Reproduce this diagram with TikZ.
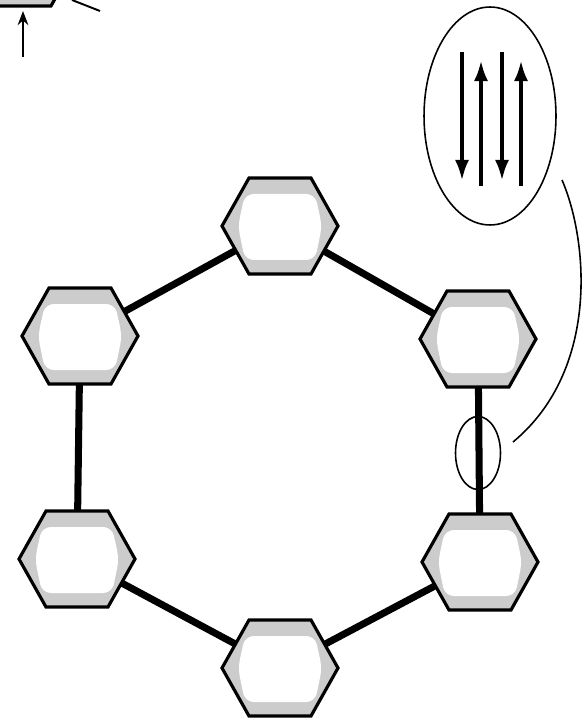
\documentclass[tikz,border=0pt]{standalone}
\usetikzlibrary{arrows.meta,shapes.geometric}

\begin{document}
\begin{tikzpicture}[
  x=0.02cm, y=-0.02cm,
  hexcell/.pic={
    \fill[gray!40] (-58,0) -- (-31,-48) -- (31,-48) -- (58,0) -- (31,48) -- (-31,48) -- cycle;
    \fill[white, rounded corners=5pt] (-42,0) -- (-35,-32) -- (35,-32) -- (42,0) -- (35,34) -- (-35,34) -- cycle;
    \draw[line width=1.8pt, line join=miter] (-58,0) -- (-31,-48) -- (31,-48) -- (58,0) -- (31,48) -- (-31,48) -- cycle;
  },
  bond/.style={line width=4pt},
  fineline/.style={line width=0.9pt},
  spin/.style={line width=2.3pt, -{Latex[length=12pt,width=8pt]}}
]
\useasboundingbox (0,0) rectangle (583,719);

\coordinate (hxtop) at (280,226);
\coordinate (hxul) at (80,336);
\coordinate (hxur) at (478,339);
\coordinate (hxll) at (77,559);
\coordinate (hxlr) at (480,562);
\coordinate (hxbot) at (280,668);
\coordinate (hxcorner) at (20,-42);

\draw[bond] (hxtop) -- (hxul) -- (hxll) -- (hxbot) -- (hxlr) -- (hxur) -- cycle;

\begin{scope}
  \clip (0,0) rectangle (583,719);
  \foreach \h in {hxtop,hxul,hxur,hxll,hxlr,hxbot,hxcorner}
    \pic at (\h) {hexcell};
\end{scope}

\coordinate (tailup) at (23,57);
\coordinate (tipup) at (23,11);
\draw[line width=1.4pt, -{Stealth[length=8pt,width=6pt]}] (tailup) -- (tipup);
\coordinate (slantA) at (72,0);
\coordinate (slantB) at (100,11);
\draw[line width=1.1pt] (slantA) -- (slantB);

\node[draw, fineline, ellipse, inner sep=0pt, minimum width=0.9cm, minimum height=1.46cm] (spot) at (478,453) {};
\node[draw, fineline, ellipse, inner sep=0pt, minimum width=2.64cm, minimum height=4.36cm] (zoomed) at (490,116) {};

\foreach \x in {462,502}
  \draw[spin] (\x,52) -- (\x,181);
\foreach \x in {481,521}
  \draw[spin] (\x,186) -- (\x,60);

\coordinate (leadA) at (562,180);
\coordinate (leadB) at (513,442);
\draw[fineline] (leadA) .. controls (588,240) and (600,370) .. (leadB);
\end{tikzpicture}
\end{document}
